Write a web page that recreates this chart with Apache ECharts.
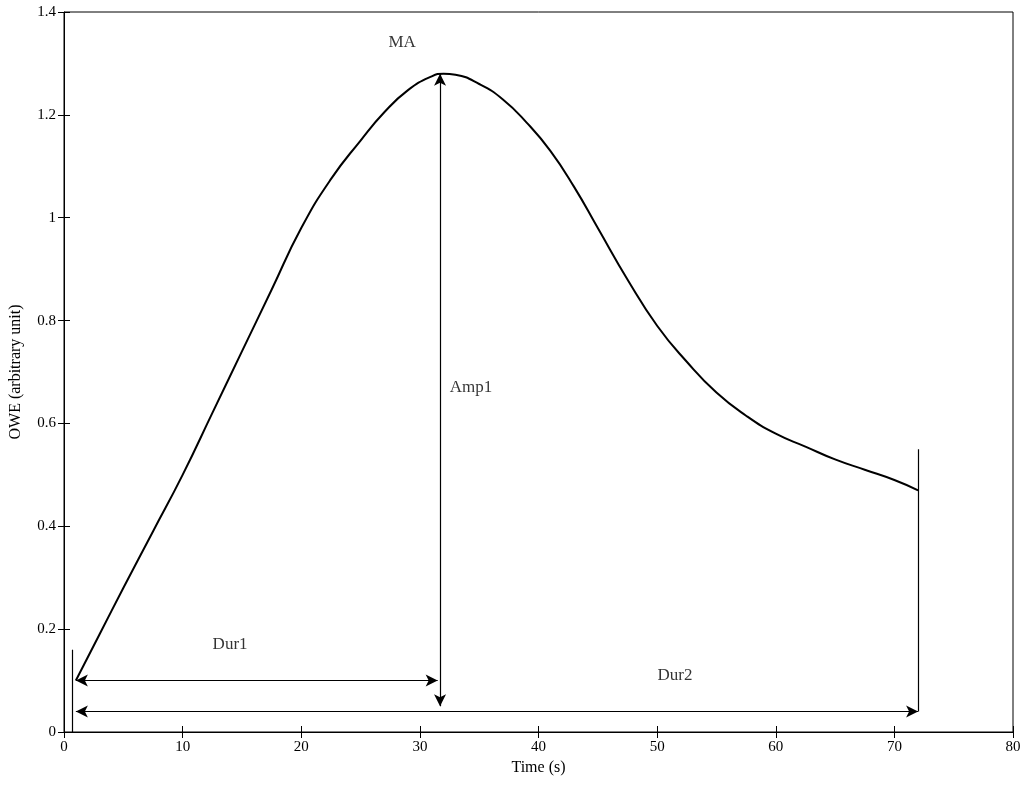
<!DOCTYPE html>
<html><head><meta charset="utf-8">
<script src="https://cdn.jsdelivr.net/npm/echarts@6/dist/echarts.min.js"></script>
<style>html,body{margin:0;padding:0;background:#fff}#c{width:1024px;height:791px}</style>
</head><body><div id="c"></div>
<script>
const timeS=[1,3,5,7.5,10,12.5,15,17.5,20,22.5,25,27,29,31,32,33,35,37,39,41,43,45,47.5,50,52.5,55,57.5,60,62.5,65,67.5,70,72];
const owe=[0.10,0.19,0.28,0.39,0.50,0.62,0.74,0.86,0.98,1.075,1.15,1.205,1.248,1.275,1.28,1.278,1.26,1.23,1.185,1.13,1.06,0.98,0.88,0.79,0.72,0.66,0.615,0.58,0.555,0.53,0.51,0.49,0.47];
const xTicks=[0,80,10];
const yTicks=[0,1.4,0.2];
const font='Liberation Serif';
const chart=echarts.init(document.getElementById('c'));
const ann={type:'line',data:[],symbol:'none',silent:true,
  markLine:{silent:true,symbol:['arrow','arrow'],symbolSize:[9,12],label:{show:false},
    lineStyle:{color:'#000',type:'solid',width:1.2},
    data:[
      [{coord:[1,0.1]},{coord:[31.5,0.1]}],
      [{coord:[1,0.04]},{coord:[72,0.04]}],
      [{coord:[31.7,0.05]},{coord:[31.7,1.28]}],
      [{coord:[0.7,0],symbol:'none'},{coord:[0.7,0.16],symbol:'none'}],
      [{coord:[72,0.04],symbol:'none'},{coord:[72,0.55],symbol:'none'}]
    ]}};
const lbl=(x,y,t)=>({type:'scatter',data:[[x,y]],symbolSize:0,silent:true,
  label:{show:true,formatter:t,position:'inside',color:'#000',fontFamily:font,fontSize:17}});
const tickAx=(pos,r)=>({type:'value',position:pos,min:r[0],max:r[1],interval:r[2],
  axisLine:{show:false},axisTick:{inside:true,length:6,lineStyle:{color:'#000'}},axisLabel:{show:false},splitLine:{show:false}});
chart.setOption({
  animation:false,
  grid:{left:63,right:11,top:12,bottom:59,show:true,borderColor:'#000',borderWidth:1},
  xAxis:[{type:'value',min:xTicks[0],max:xTicks[1],interval:xTicks[2],name:'Time (s)',nameLocation:'middle',nameGap:22,
    nameTextStyle:{fontFamily:font,fontSize:16,color:'#000'},
    axisLine:{lineStyle:{color:'#000'}},axisTick:{inside:true,length:6,lineStyle:{color:'#000'}},
    axisLabel:{fontFamily:font,fontSize:15,color:'#000'},splitLine:{show:false}},tickAx('top',xTicks)],
  yAxis:[{type:'value',min:yTicks[0],max:yTicks[1],interval:yTicks[2],name:'OWE (arbitrary unit)',nameLocation:'middle',nameGap:40,
    nameTextStyle:{fontFamily:font,fontSize:16,color:'#000'},
    axisLine:{lineStyle:{color:'#000'}},axisTick:{inside:true,length:6,lineStyle:{color:'#000'}},
    axisLabel:{fontFamily:font,fontSize:15,color:'#000',formatter:v=>String(+v.toFixed(1))},splitLine:{show:false}},tickAx('right',yTicks)],
  series:[
    {type:'line',data:timeS.map((t,i)=>[t,owe[i]]),smooth:true,symbol:'none',lineStyle:{color:'#000',width:2}},
    ann,
    lbl(28.5,1.34,'MA'),lbl(34.3,0.67,'Amp1'),lbl(14,0.17,'Dur1'),lbl(51.5,0.11,'Dur2')
  ]
});
</script></body></html>
